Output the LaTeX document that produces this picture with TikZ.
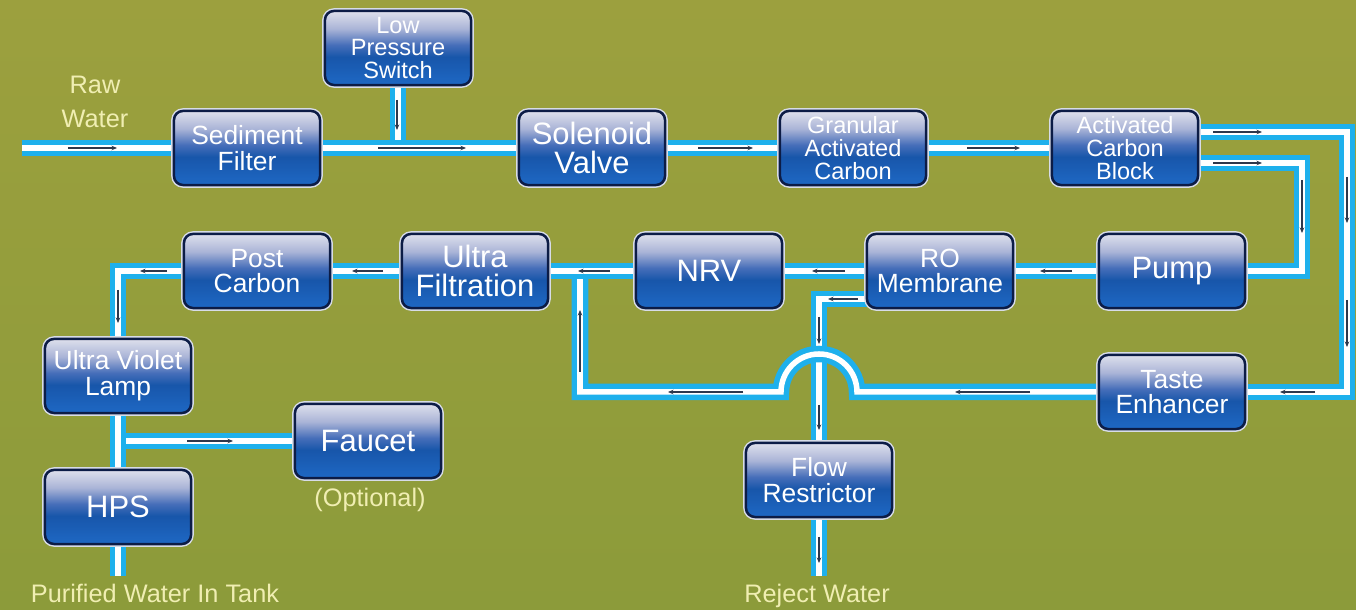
\documentclass[tikz,border=0pt]{standalone}
\usepackage{fontspec}
\setmainfont{Liberation Sans}
\usepackage{tikz}
\usetikzlibrary{positioning, calc, arrows.meta}
\usepackage{xcolor}

\definecolor{bgtop}{RGB}{156,160,62}
\definecolor{bgbot}{RGB}{140,155,58}
\definecolor{pipeblue}{RGB}{30,176,236}
\definecolor{unitedge}{RGB}{12,28,70}
\definecolor{unitrim}{RGB}{215,220,232}
\definecolor{unitlow}{RGB}{30,104,196}
\definecolor{unitmid}{RGB}{24,86,170}
\definecolor{unitblend}{RGB}{70,110,185}
\definecolor{unitsheen}{RGB}{170,180,215}
\definecolor{unittop}{RGB}{222,224,236}
\definecolor{labelcream}{RGB}{240,238,178}
\definecolor{markgray}{RGB}{45,55,75}

\pgfdeclarelayer{backdrop}
\pgfdeclarelayer{piping}
\pgfsetlayers{backdrop,piping,main}

\pgfdeclareverticalshading{unitshade}{100bp}{color(0bp)=(unitlow); color(25bp)=(unitlow); color(44bp)=(unitmid); color(52bp)=(unitblend); color(63bp)=(unitsheen); color(75bp)=(unittop); color(100bp)=(unittop)}

\tikzset{unit/.style={rectangle, rounded corners=0.09cm, minimum width=1.46cm, minimum height=0.74cm, inner sep=0pt, align=center, text=white, shading=unitshade, draw=unitedge, line width=0.025cm, preaction={draw=unitrim, line width=0.055cm}}}
\tikzset{bigtext/.style={font=\fontsize{8.8}{8.1}\selectfont}}
\tikzset{midtext/.style={font=\fontsize{7.5}{7.3}\selectfont}}
\tikzset{smalltext/.style={font=\fontsize{6.7}{6.5}\selectfont}}
\tikzset{note/.style={text=labelcream, align=center, font=\fontsize{7.2}{9.5}\selectfont}}
\tikzset{pipe/.style={draw=pipeblue, line width=0.055cm, double=white, double distance=0.055cm}}
\tikzset{flowmark/.style={draw=markgray, line width=0.012cm, -{Stealth[length=0.055cm, width=0.045cm]}}}

\begin{document}
\begin{tikzpicture}[x=0.01cm, y=-0.01cm]
      \begin{pgfonlayer}{backdrop}
        \shade[top color=bgtop, bottom color=bgbot] (0,0) rectangle (1356,610);
      \end{pgfonlayer}
      \useasboundingbox (0,0) rectangle (1356,610);

      % treatment units
      \node[unit, smalltext] (lps) at (398,48) {Low\\Pressure\\Switch};
      \node[unit, midtext] (sed) at (247,148) {Sediment\\Filter};
      \node[unit, bigtext] (sol) at (592,148) {Solenoid\\Valve};
      \node[unit, smalltext] (gac) at (853,148) {Granular\\Activated\\Carbon};
      \node[unit, smalltext] (acb) at (1125,148) {Activated\\Carbon\\Block};
      \node[unit, bigtext] (pump) at (1172,271) {Pump};
      \node[unit, midtext] (ro) at (940,271) {RO\\Membrane};
      \node[unit, bigtext] (nrv) at (709,271) {NRV};
      \node[unit, bigtext] (uf) at (475,271) {Ultra\\Filtration};
      \node[unit, midtext] (post) at (257,271) {Post\\Carbon};
      \node[unit, midtext] (uv) at (118,376) {Ultra Violet\\Lamp};
      \node[unit, bigtext] (faucet) at (368,441) {Faucet};
      \node[unit, bigtext] (hps) at (118,507) {HPS};
      \node[unit, midtext] (taste) at (1172,392) {Taste\\Enhancer};
      \node[unit, midtext] (flow) at (819,480) {Flow\\Restrictor};

      % labels
      \node[note] (rawlbl) at (95,102) {Raw\\Water};
      \node[note, anchor=base] (optlbl) at (370,507) {(Optional)};
      \node[note, anchor=base] (purelbl) at (155,603) {Purified Water In Tank};
      \node[note, anchor=base] (rejlbl) at (817,603) {Reject Water};

      \coordinate (rawin) at (22,148);
      \coordinate (tankout) at (118,576);
      \coordinate (rejout) at (819,576);
      \coordinate (outer) at (1347,132);
      \coordinate (inner) at (1302,163);
      \coordinate (bypass) at (580,392);
      \coordinate (reject) at (819,299);

      \begin{pgfonlayer}{piping}
        % branches first, trunk on top
        \draw[pipe] (lps) -- (lps |- sed);
        \draw[pipe] (uv |- faucet) -- (faucet);
        \draw[pipe] (ro |- reject) -- (reject) -- (rejout);
        \draw[pipe] (taste) -- ($(flow |- taste)+(38,0)$) arc[start angle=0, end angle=-180, radius=38] -- (bypass) -- (bypass |- uf);
        \draw[pipe] (acb |- outer) -- (outer) -- (outer |- taste) -- (taste);
        \draw[pipe] (acb |- inner) -- (inner) -- (inner |- pump) -- (pump);
        \draw[pipe] (rawin) -- (sed) -- (sol) -- (gac) -- (acb);
        \draw[pipe] (pump) -- (ro) -- (nrv) -- (uf) -- (post) -- (post -| uv) -- (uv) -- (hps) -- (tankout);

        % flow direction marks
        \foreach \xa/\ya/\xb/\yb in {68/148/117/148, 378/148/466/148, 397/100/397/130,
            698/148/753/148, 967/148/1020/148, 1213/132/1262/132, 1213/163/1262/163,
            1347/177/1347/223, 1347/300/1347/347, 1302/180/1302/233, 1072/271/1040/271,
            1315/392/1280/392, 1030/392/955/392, 845/271/812/271, 610/271/578/271,
            580/372/580/310, 743/392/668/392, 858/299/828/299, 819/317/819/344,
            819/405/819/430, 819/537/819/563, 383/271/352/271, 167/271/140/271,
            118/290/118/323, 187/441/233/441}
          \draw[flowmark] (\xa,\ya) -- (\xb,\yb);
      \end{pgfonlayer}
\end{tikzpicture}
\end{document}
